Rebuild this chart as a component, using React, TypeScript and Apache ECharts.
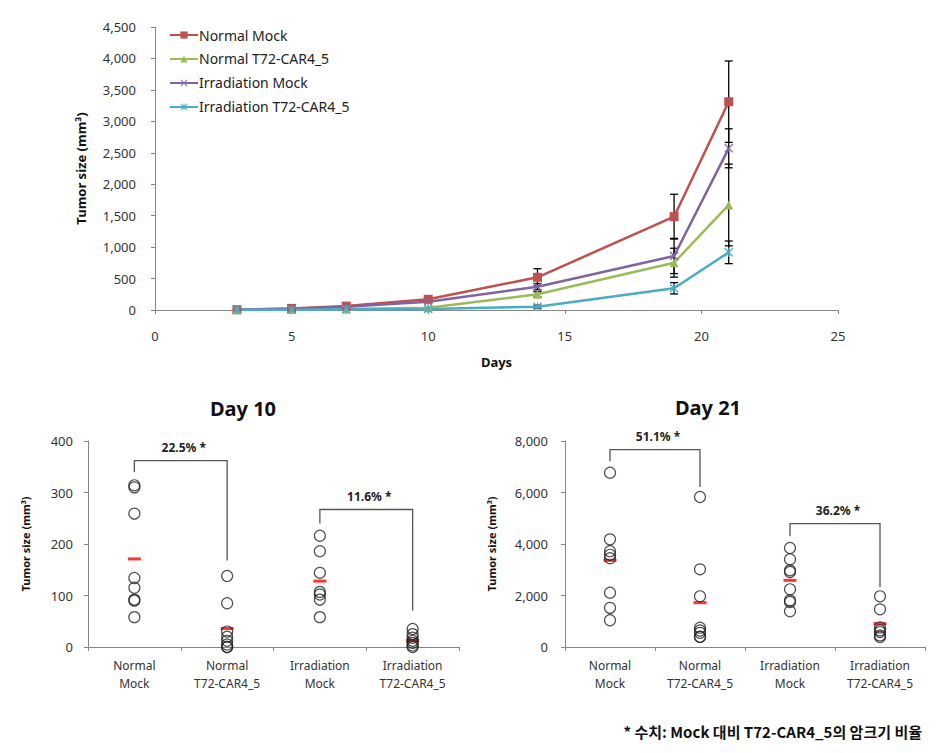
import React, { useEffect, useRef } from "react";
import * as echarts from "echarts";

// ---------- Top chart data ----------
const days = [3, 5, 7, 10, 14, 19, 21];
const seriesNames = ["Normal Mock", "Normal T72-CAR4_5", "Irradiation Mock", "Irradiation T72-CAR4_5"];
const normalMock = [5, 25, 62, 170, 520, 1484, 3312];
const normalT72 = [3, 8, 15, 35, 250, 752, 1670];
const irrMock = [4, 20, 50, 132, 371, 859, 2571];
const irrT72 = [2, 5, 10, 15, 53, 345, 917];
const normalMockErr = [0, 0, 0, 10, 137, 356, 647];
const normalT72Err = [0, 0, 0, 5, 40, 230, 650];
const irrMockErr = [0, 0, 0, 10, 50, 280, 310];
const irrT72Err = [0, 0, 0, 3, 25, 90, 180];
const topYTicks = [0, 500, 1000, 1500, 2000, 2500, 3000, 3500, 4000, 4500];

// ---------- Bottom charts data ----------
const groups = ["Normal\nMock", "Normal\nT72-CAR4_5", "Irradiation\nMock", "Irradiation\nT72-CAR4_5"];
const day10NormalMock = [314, 310, 259, 134, 115, 92, 90, 58];
const day10NormalT72 = [138, 85, 30, 20, 12, 5, 0, 0];
const day10IrrMock = [216, 186, 144, 107, 102, 92, 58];
const day10IrrT72 = [35, 25, 18, 12, 8, 3, 0];
const day10Means = [171, 36, 128, 13];
const day10Brackets = [
  // [fromCat, fromVal, topVal, toCat, toVal]
  [0, 340, 362, 1, 168],
  [2, 240, 267, 3, 71],
];
const day10BracketLabels = ["22.5% *", "11.6% *"];

const day21NormalMock = [6770, 4180, 3720, 3580, 3450, 2110, 1520, 1040];
const day21NormalT72 = [5825, 3016, 1968, 750, 640, 550, 400, 390];
const day21IrrMock = [3845, 3405, 2977, 2912, 2240, 1812, 1748, 1385];
const day21IrrT72 = [1968, 1463, 760, 650, 580, 450, 390];
const day21Means = [3366, 1722, 2589, 906];
const day21Brackets = [
  [0, 7212, 7666, 1, 6214],
  [2, 4300, 4792, 3, 2330],
];
const day21BracketLabels = ["51.1% *", "36.2% *"];

const footnote = "* 수치: Mock 대비 T72-CAR4_5의 암크기 비율";

const FONT = "'Noto Sans', 'Noto Sans CJK KR', sans-serif";
const AXIS_COLOR = "#868686";
const LABEL_COLOR = "#333";

const xSymbol = "path://M0,1L1,0L5,4L9,0L10,1L6,5L10,9L9,10L5,6L1,10L0,9L4,5Z";
const starSymbol = "path://M0,1L1,0L5,4L9,0L10,1L6,5L10,9L9,10L5,6L1,10L0,9L4,5Z M4.4,0L5.6,0L5.6,10L4.4,10Z";

const fmt = (v: number) => v.toLocaleString("en-US");

function errSeries(vals: number[], errs: number[], grid: number) {
  return {
    type: "custom",
    xAxisIndex: grid,
    yAxisIndex: grid,
    z: 1,
    silent: true,
    data: days.map((d, i) => [d, vals[i] - errs[i], vals[i] + errs[i]]).filter((_, i) => errs[i] > 0),
    renderItem: (params: any, api: any) => {
      const x = api.value(0);
      const lo = api.coord([x, api.value(1)]);
      const hi = api.coord([x, api.value(2)]);
      const st = { stroke: "#000", lineWidth: 1.3 };
      return {
        type: "group",
        children: [
          { type: "line", shape: { x1: lo[0], y1: lo[1], x2: hi[0], y2: hi[1] }, style: st },
          { type: "line", shape: { x1: lo[0] - 4, y1: lo[1], x2: lo[0] + 4, y2: lo[1] }, style: st },
          { type: "line", shape: { x1: hi[0] - 4, y1: hi[1], x2: hi[0] + 4, y2: hi[1] }, style: st },
        ],
      };
    },
  };
}

function lineSeries(name: string, vals: number[], color: string, symbol: string, size: number) {
  return {
    name,
    type: "line",
    xAxisIndex: 0,
    yAxisIndex: 0,
    z: 3,
    data: days.map((d, i) => [d, vals[i]]),
    symbol,
    symbolSize: size,
    showAllSymbol: true,
    lineStyle: { color, width: 2.5 },
    itemStyle: { color },
  };
}

function dotSeries(grid: number, cat: number, vals: number[]) {
  return {
    type: "scatter",
    xAxisIndex: grid,
    yAxisIndex: grid,
    z: 3,
    data: vals.map((v) => [cat, v]),
    symbol: "circle",
    symbolSize: 11,
    itemStyle: { color: "rgba(255,255,255,0)", borderColor: "#222", borderWidth: 1.2 },
  };
}

function meanSeries(grid: number, means: number[]) {
  return {
    type: "scatter",
    xAxisIndex: grid,
    yAxisIndex: grid,
    z: 2,
    data: means.map((v, i) => [i, v]),
    symbol: "rect",
    symbolSize: [13, 3],
    itemStyle: { color: "#FF0000" },
  };
}

function bracketSeries(grid: number, brackets: number[][], labels: string[]) {
  return {
    type: "custom",
    xAxisIndex: grid,
    yAxisIndex: grid,
    clip: false,
    silent: true,
    data: brackets,
    renderItem: (params: any, api: any) => {
      const p0 = api.coord([api.value(0), api.value(1)]);
      const t0 = api.coord([api.value(0), api.value(2)]);
      const t1 = api.coord([api.value(3), api.value(2)]);
      const p1 = api.coord([api.value(3), api.value(4)]);
      return {
        type: "group",
        children: [
          {
            type: "polyline",
            shape: { points: [p0, t0, t1, p1] },
            style: { stroke: "#555", lineWidth: 1.3, fill: null },
          },
          {
            type: "text",
            x: (t0[0] + t1[0]) / 2 + 3,
            y: t0[1] - 13,
            style: {
              text: labels[params.dataIndex],
              fill: "#222",
              font: `bold 12px ${FONT}`,
              textAlign: "center",
              textVerticalAlign: "middle",
            },
          },
        ],
      };
    },
  };
}

function catAxis(grid: number) {
  return {
    type: "category",
    gridIndex: grid,
    data: groups,
    boundaryGap: true,
    axisLine: { lineStyle: { color: AXIS_COLOR } },
    axisTick: { show: true, inside: false, length: 4, lineStyle: { color: AXIS_COLOR } },
    axisLabel: { color: LABEL_COLOR, fontSize: 12, fontFamily: FONT, lineHeight: 18, margin: 9 },
    splitLine: { show: false },
  };
}

function valAxis(grid: number, max: number, interval: number, nameGap: number, margin: number) {
  return {
    type: "value",
    gridIndex: grid,
    min: 0,
    max,
    interval,
    name: "Tumor size (mm³)",
    nameLocation: "middle",
    nameRotate: 90,
    nameGap,
    nameTextStyle: { color: "#111", fontWeight: "bold", fontSize: 11, fontFamily: FONT },
    axisLine: { show: true, lineStyle: { color: AXIS_COLOR } },
    axisTick: { show: true, inside: false, length: 4, lineStyle: { color: AXIS_COLOR } },
    axisLabel: { color: LABEL_COLOR, fontSize: 13, fontFamily: FONT, formatter: (v: number) => fmt(v), margin },
    splitLine: { show: false },
  };
}

export default function App() {
  const ref = useRef<HTMLDivElement>(null);
  useEffect(() => {
    if (!ref.current) return;
    const chart = echarts.init(ref.current, undefined, { renderer: "svg" });
    const option: any = {
      animation: false,
      backgroundColor: "#fff",
      textStyle: { fontFamily: FONT },
      grid: [
        { left: 155, top: 27, width: 683, height: 283 },
        { left: 88, top: 441, width: 371, height: 206 },
        { left: 565, top: 441, width: 360, height: 206 },
      ],
      legend: {
        data: seriesNames,
        orient: "vertical",
        left: 164,
        top: 23,
        itemWidth: 28,
        itemHeight: 9,
        itemGap: 10,
        textStyle: { color: "#222", fontSize: 14, fontFamily: FONT, padding: [0, 0, 0, -4] },
      },
      xAxis: [
        {
          type: "value",
          gridIndex: 0,
          min: 0,
          max: 25,
          interval: 5,
          name: "Days",
          nameLocation: "middle",
          nameGap: 45,
          nameTextStyle: { color: "#111", fontWeight: "bold", fontSize: 13, fontFamily: FONT },
          axisLine: { show: true, onZero: false, lineStyle: { color: AXIS_COLOR } },
          axisTick: { show: true, inside: false, length: 4, lineStyle: { color: AXIS_COLOR } },
          axisLabel: { color: LABEL_COLOR, fontSize: 13, fontFamily: FONT, margin: 19 },
          splitLine: { show: false },
        },
        catAxis(1),
        catAxis(2),
      ],
      yAxis: [
        {
          type: "value",
          gridIndex: 0,
          min: 0,
          max: 4500,
          interval: 500,
          name: "Tumor size (mm³)",
          nameLocation: "middle",
          nameRotate: 90,
          nameGap: 68,
          nameTextStyle: { color: "#111", fontWeight: "bold", fontSize: 13, fontFamily: FONT },
          axisLine: { show: true, lineStyle: { color: AXIS_COLOR } },
          axisTick: { show: true, inside: false, length: 4, lineStyle: { color: AXIS_COLOR } },
          axisLabel: {
            color: LABEL_COLOR,
            fontSize: 13,
            fontFamily: FONT,
            margin: 19,
            customValues: topYTicks,
            formatter: (v: number) => fmt(v),
          },
          splitLine: { show: false },
        },
        valAxis(1, 400, 100, 57, 15),
        valAxis(2, 8000, 2000, 68, 17),
      ],
      graphic: [
        {
          type: "text",
          x: 243,
          y: 408,
          style: {
            text: "Day 10",
            fill: "#111",
            font: `bold 20px ${FONT}`,
            textAlign: "center",
            textVerticalAlign: "middle",
          },
        },
        {
          type: "text",
          x: 708,
          y: 407,
          style: {
            text: "Day 21",
            fill: "#111",
            font: `bold 20px ${FONT}`,
            textAlign: "center",
            textVerticalAlign: "middle",
          },
        },
        {
          type: "text",
          x: 922,
          y: 731,
          style: {
            text: footnote,
            fill: "#111",
            font: `bold 15px 'Noto Sans CJK KR', sans-serif`,
            textAlign: "right",
            textVerticalAlign: "middle",
          },
        },
      ],
      series: [
        errSeries(normalMock, normalMockErr, 0),
        errSeries(normalT72, normalT72Err, 0),
        errSeries(irrMock, irrMockErr, 0),
        errSeries(irrT72, irrT72Err, 0),
        lineSeries(seriesNames[0], normalMock, "#C0504D", "rect", 9),
        lineSeries(seriesNames[1], normalT72, "#9BBB59", "triangle", 9),
        lineSeries(seriesNames[2], irrMock, "#8064A2", xSymbol, 9),
        lineSeries(seriesNames[3], irrT72, "#4BACC6", starSymbol, 9),
        dotSeries(1, 0, day10NormalMock),
        dotSeries(1, 1, day10NormalT72),
        dotSeries(1, 2, day10IrrMock),
        dotSeries(1, 3, day10IrrT72),
        meanSeries(1, day10Means),
        bracketSeries(1, day10Brackets, day10BracketLabels),
        dotSeries(2, 0, day21NormalMock),
        dotSeries(2, 1, day21NormalT72),
        dotSeries(2, 2, day21IrrMock),
        dotSeries(2, 3, day21IrrT72),
        meanSeries(2, day21Means),
        bracketSeries(2, day21Brackets, day21BracketLabels),
      ],
    };
    chart.setOption(option);
    return () => chart.dispose();
  }, []);
  return (
    <div
      ref={ref}
      style={{ position: "absolute", left: 0, top: 0, width: 952, height: 753, background: "#fff" }}
    />
  );
}
